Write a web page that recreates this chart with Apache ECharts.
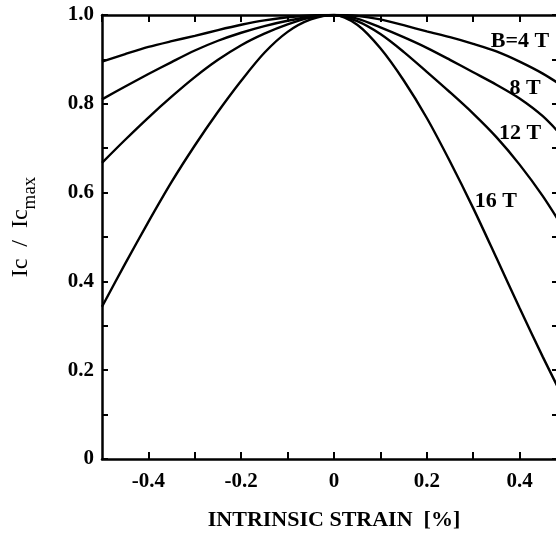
<!DOCTYPE html>
<html>
<head>
<meta charset="utf-8">
<script src="https://cdn.jsdelivr.net/npm/echarts@6/dist/echarts.min.js"></script>
<style>
  html, body { margin: 0; padding: 0; background: #fff; }
  #chart { width: 556px; height: 535px; }
</style>
</head>
<body>
<div id="chart"></div>
<script>
// Normalised critical current vs intrinsic strain for several fields
const strain = [-0.5, -0.45, -0.4, -0.35, -0.3, -0.25, -0.2, -0.15, -0.1, -0.05, 0,
                0.05, 0.1, 0.15, 0.2, 0.25, 0.3, 0.35, 0.4, 0.45, 0.5];

const ic4T  = [0.895, 0.912, 0.928, 0.941, 0.953, 0.966, 0.978, 0.988, 0.995, 0.999, 1.0,
               0.998, 0.990, 0.977, 0.963, 0.950, 0.935, 0.918, 0.895, 0.868, 0.835];
const ic8T  = [0.810, 0.839, 0.867, 0.894, 0.920, 0.942, 0.960, 0.975, 0.987, 0.996, 1.0,
               0.992, 0.972, 0.950, 0.926, 0.899, 0.871, 0.843, 0.812, 0.772, 0.718];
const ic12T = [0.667, 0.719, 0.769, 0.816, 0.860, 0.899, 0.932, 0.958, 0.979, 0.994, 1.0,
               0.986, 0.957, 0.917, 0.872, 0.826, 0.778, 0.725, 0.663, 0.592, 0.510];
const ic16T = [0.343, 0.440, 0.534, 0.624, 0.706, 0.782, 0.852, 0.915, 0.962, 0.990, 1.0,
               0.978, 0.925, 0.853, 0.768, 0.670, 0.565, 0.453, 0.340, 0.230, 0.125];

const seriesNames = ['B=4 T', '8 T', '12 T', '16 T'];
// Where each field label sits, in strain / Ic units
const labelAt = [[0.401, 0.941], [0.412, 0.836], [0.401, 0.734], [0.349, 0.581]];

const xTicks = [-0.4, -0.2, 0, 0.2, 0.4];
const yTicks = [0, 0.2, 0.4, 0.6, 0.8, 1.0];

const FONT = '"Liberation Serif", "DejaVu Serif", serif';
const ink = '#000';

function pairs(ys) { return strain.map((x, i) => [x, ys[i]]); }
function isTick(list, v) { return list.some(t => Math.abs(t - v) < 1e-9); }

const curves = [ic4T, ic8T, ic12T, ic16T].map((ys, i) => ({
  name: seriesNames[i],
  type: 'line',
  data: pairs(ys),
  smooth: 0.3,
  showSymbol: false,
  silent: true,
  lineStyle: { color: ink, width: 2.4 },
  markPoint: {
    symbol: 'rect',
    symbolSize: 1,
    itemStyle: { color: 'rgba(0,0,0,0)' },
    label: {
      show: true,
      position: 'inside',
      formatter: seriesNames[i],
      color: ink,
      fontFamily: FONT,
      fontWeight: 'bold',
      fontSize: 22
    },
    data: [{ coord: labelAt[i] }]
  }
}));

const tickLabel = { color: ink, fontFamily: FONT, fontWeight: 'bold', fontSize: 21 };
const frameLine = { onZero: false, lineStyle: { color: ink, width: 2.5 } };

const chart = echarts.init(document.getElementById('chart'), null, { renderer: 'canvas' });
chart.setOption({
  animation: false,
  backgroundColor: '#fff',
  // The frame runs a little past the right edge of the page
  grid: {
    left: 102, top: 15, width: 464, height: 444,
    containLabel: false,
    outerBoundsMode: 'none'
  },
  xAxis: [
    {
      type: 'value', min: -0.5, max: 0.5, interval: 0.1,
      position: 'bottom',
      name: 'INTRINSIC STRAIN  [%]',
      nameLocation: 'middle',
      nameGap: 50,
      nameTextStyle: { color: ink, fontFamily: FONT, fontWeight: 'bold', fontSize: 22 },
      axisLine: frameLine,
      axisTick: { inside: true, length: 7, lineStyle: { color: ink, width: 2 } },
      axisLabel: Object.assign({
        margin: 12,
        showMinLabel: false, showMaxLabel: false,
        formatter: v => (isTick(xTicks, v) ? String(+v.toFixed(1)) : '')
      }, tickLabel),
      splitLine: { show: false }
    },
    {
      type: 'value', min: -0.5, max: 0.5, interval: 0.1,
      position: 'top',
      axisLine: frameLine,
      axisTick: { inside: true, length: 7, lineStyle: { color: ink, width: 2 } },
      axisLabel: { show: false },
      splitLine: { show: false }
    }
  ],
  yAxis: [
    {
      type: 'value', min: 0, max: 1, interval: 0.1,
      position: 'left',
      name: '{a|Ic  /  Ic}{b|max}',
      nameLocation: 'middle',
      nameGap: 62,
      nameRotate: 90,
      nameTextStyle: {
        padding: [0, 0, 0, 20],
        rich: {
          a: { fontFamily: FONT, fontSize: 24, color: ink, lineHeight: 38, verticalAlign: 'middle' },
          b: { fontFamily: FONT, fontSize: 19, color: ink, lineHeight: 16, verticalAlign: 'bottom' }
        }
      },
      axisLine: frameLine,
      axisTick: { inside: true, length: 6, lineStyle: { color: ink, width: 2 } },
      axisLabel: Object.assign({
        margin: 8,
        formatter: v => (isTick(yTicks, v) ? (v === 0 ? '0' : v.toFixed(1)) : '')
      }, tickLabel),
      splitLine: { show: false }
    },
    {
      type: 'value', min: 0, max: 1, interval: 0.1,
      position: 'right',
      axisLine: frameLine,
      axisTick: { inside: true, length: 14, lineStyle: { color: ink, width: 2 } },
      axisLabel: { show: false },
      splitLine: { show: false }
    }
  ],
  series: curves
});
</script>
</body>
</html>
